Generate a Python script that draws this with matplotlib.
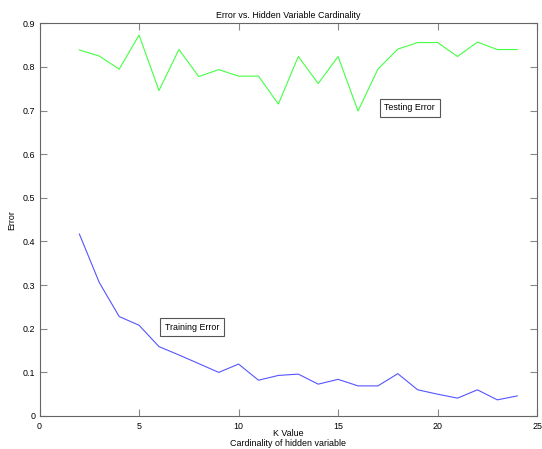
import numpy as np
import matplotlib.pyplot as plt

# Valores
k_values = list(range(2, 25))
testing_error = [0.839, 0.825, 0.795, 0.873, 0.746, 0.840, 0.778, 0.794, 0.779, 0.779,
                 0.715, 0.824, 0.762, 0.824, 0.699, 0.795, 0.841, 0.856, 0.856, 0.824,
                 0.857, 0.840, 0.840]
training_error = [0.417, 0.306, 0.228, 0.208, 0.159, 0.140, 0.120, 0.100, 0.119, 0.082,
                  0.093, 0.096, 0.073, 0.084, 0.069, 0.069, 0.097, 0.060, 0.050, 0.041,
                  0.060, 0.037, 0.046]

fs = 6.4
plt.rcParams['font.family'] = ['Liberation Sans', 'DejaVu Sans']
plt.rcParams['font.size'] = fs

fig = plt.figure(figsize=(5.42, 4.49), dpi=100)
ax = fig.add_axes([0.073, 0.0735, 0.918, 0.8745])

ax.plot(k_values, testing_error, color='#44ff44', linewidth=0.8)
ax.plot(k_values, training_error, color='#5555ff', linewidth=0.8)

ax.set_xlim(0, 25)
ax.set_ylim(0, 0.9)
ax.set_xticks([0, 5, 10, 15, 20, 25])
ax.set_yticks(np.arange(0, 0.91, 0.1))
ax.set_yticklabels(['0', '0.1', '0.2', '0.3', '0.4', '0.5', '0.6', '0.7', '0.8', '0.9'])

for s in ax.spines.values():
    s.set_color('#666666')
    s.set_linewidth(0.8)
ax.tick_params(direction='in', length=5, width=0.8, color='#888888',
               top=True, right=True, labelsize=fs, pad=3)
ax.tick_params(axis='x', pad=4)

ax.set_title("Error vs. Hidden Variable Cardinality", fontsize=fs, pad=4)
ax.set_xlabel("K Value\nCardinality of hidden variable", fontsize=fs, linespacing=1.05)
ax.xaxis.set_label_coords(0.5, -0.034, transform=ax.transAxes)
ax.xaxis.label.set_va('top')
ax.set_ylabel("Error", fontsize=fs, labelpad=5)

box = dict(boxstyle='square,pad=0.5', facecolor='white', edgecolor='#555555', linewidth=0.8)
ax.text(18.6, 0.706, "Testing Error", ha='center', va='center', fontsize=fs, bbox=box)
ax.text(7.66, 0.203, "Training Error", ha='center', va='center', fontsize=fs, bbox=box)

plt.savefig('out.png', dpi=100)
